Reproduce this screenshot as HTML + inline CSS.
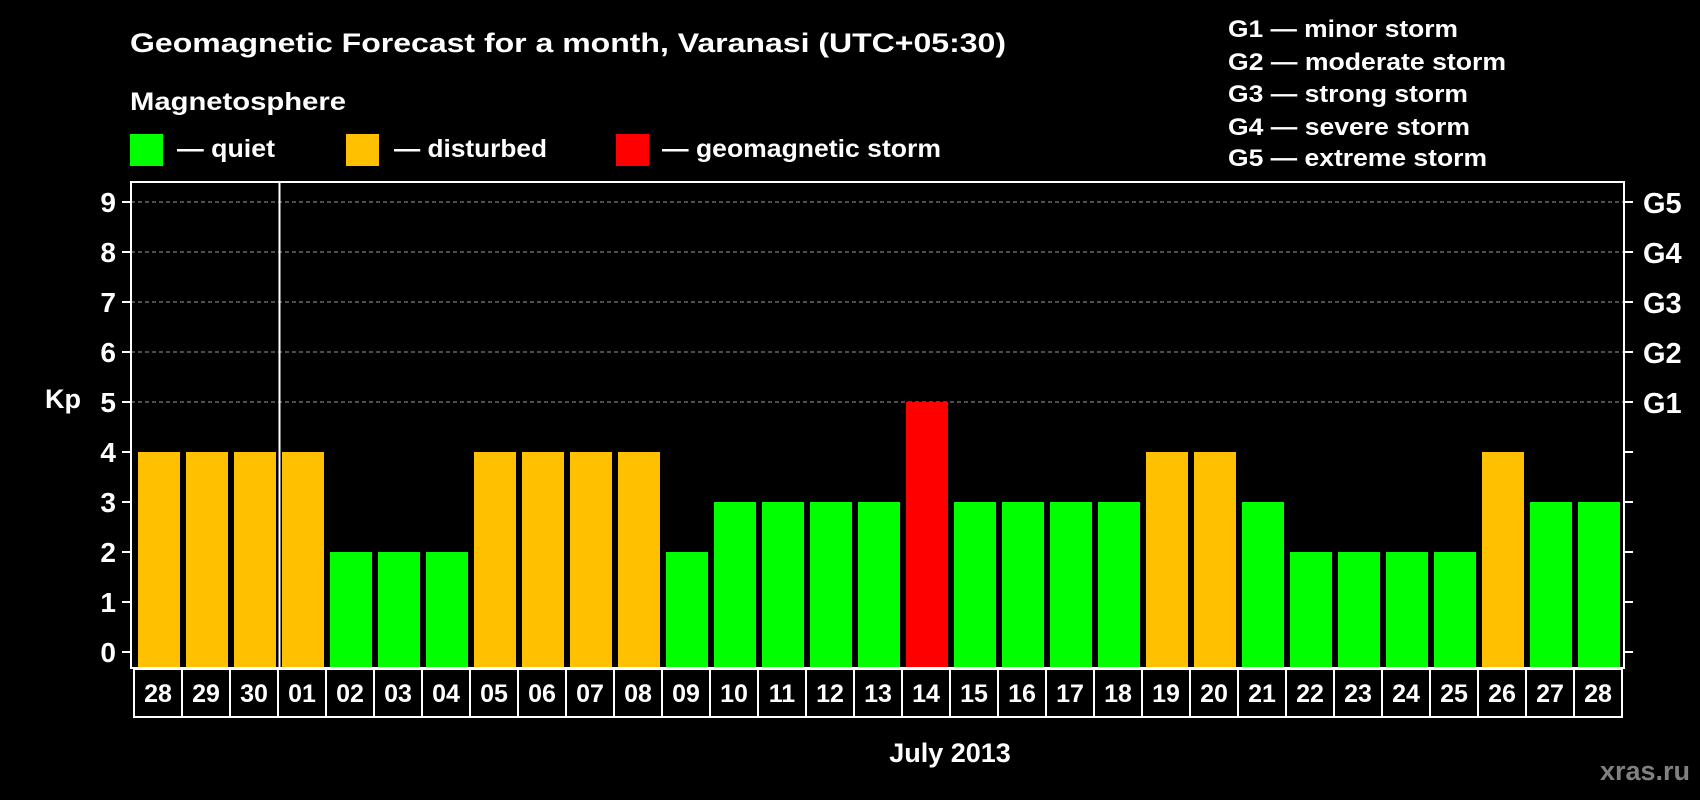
<!DOCTYPE html>
<html><head><meta charset="utf-8"><style>
html,body{margin:0;padding:0;background:#000;}
svg{display:block;font-family:"Liberation Sans",Arial,sans-serif;font-weight:bold;}
</style></head><body>
<svg id="chart" width="1700" height="800" viewBox="0 0 1700 800">
<rect width="1700" height="800" fill="#000"/>
<text x="130" y="52" font-size="27" fill="#fff" textLength="876" lengthAdjust="spacingAndGlyphs">Geomagnetic Forecast for a month, Varanasi (UTC+05:30)</text>
<text x="130" y="110" font-size="25" fill="#fff" textLength="216" lengthAdjust="spacingAndGlyphs">Magnetosphere</text>
<g>
<rect x="130" y="134" width="33" height="32" fill="#00ff00"/>
<text x="177" y="157" font-size="25" fill="#fff" textLength="98" lengthAdjust="spacingAndGlyphs">— quiet</text></g>
<g>
<rect x="346" y="134" width="33" height="32" fill="#ffc000"/>
<text x="394" y="157" font-size="25" fill="#fff" textLength="153" lengthAdjust="spacingAndGlyphs">— disturbed</text></g>
<g>
<rect x="616" y="134" width="33" height="32" fill="#ff0000"/>
<text x="662" y="157" font-size="25" fill="#fff" textLength="279" lengthAdjust="spacingAndGlyphs">— geomagnetic storm</text></g>
<g font-size="24" fill="#fff">
<text x="1228" y="37" textLength="230" lengthAdjust="spacingAndGlyphs">G1 — minor storm</text>
<text x="1228" y="70" textLength="278" lengthAdjust="spacingAndGlyphs">G2 — moderate storm</text>
<text x="1228" y="102" textLength="240" lengthAdjust="spacingAndGlyphs">G3 — strong storm</text>
<text x="1228" y="135" textLength="242" lengthAdjust="spacingAndGlyphs">G4 — severe storm</text>
<text x="1228" y="166" textLength="259" lengthAdjust="spacingAndGlyphs">G5 — extreme storm</text>
</g>
<text x="63" y="408" font-size="27" fill="#fff" text-anchor="middle">Kp</text>
<text x="950" y="762" font-size="27" fill="#fff" text-anchor="middle">July 2013</text>
<text x="1690" y="780" font-size="27" fill="#808080" text-anchor="end">xras.ru</text>
<g id="plot"></g>
</svg>
<script>
const days = ["28","29","30","01","02","03","04","05","06","07","08","09","10","11","12","13","14","15","16","17","18","19","20","21","22","23","24","25","26","27","28"];
const kpValues = [4,4,4,4,2,2,2,4,4,4,4,2,3,3,3,3,5,3,3,3,3,4,4,3,2,2,2,2,4,3,3];
const yTicks = [0,1,2,3,4,5,6,7,8,9];
const gLabels = ["G1","G2","G3","G4","G5"];
const gLevels = [5,6,7,8,9];

const NS="http://www.w3.org/2000/svg";
const plot=document.getElementById('plot');
const L=131,R=1624,T=182,B=668;
const y=v=>652-v*50;
const x0=138,step=48,bw=42;
const xb=i=>x0+i*step;
function mk(t,a){const e=document.createElementNS(NS,t);for(const k in a)e.setAttribute(k,a[k]);plot.appendChild(e);return e;}
function color(v){return v>=5?"#ff0000":(v>=4?"#ffc000":"#00ff00");}

gLevels.forEach((v,i)=>{
  const g=mk('line',{x1:L,x2:R,y1:y(v),y2:y(v),stroke:"#9a9a9a","stroke-width":1,"stroke-dasharray":"4,3"});
  
  
  const t=mk('text',{x:1643,y:y(v)+11,"font-size":29,fill:"#fff"});
  t.textContent=gLabels[i];
  
  
});
kpValues.forEach((v,i)=>{
  const r=mk('rect',{x:xb(i),y:y(v),width:bw,height:B-y(v),fill:color(v)});
  
  
});
yTicks.forEach(v=>{
  const tk=mk('line',{x1:L-9,x2:L,y1:y(v),y2:y(v),stroke:"#fff","stroke-width":2});
  
  
  const tr=mk('line',{x1:R,x2:R+9,y1:y(v),y2:y(v),stroke:"#fff","stroke-width":2});
  
  
  const t=mk('text',{x:116,y:y(v)+10,"font-size":28,fill:"#fff","text-anchor":"end"});
  t.textContent=v;
  
  
});
const fr=mk('rect',{x:L,y:T,width:R-L,height:B-T,fill:"none",stroke:"#fff","stroke-width":2});


const sep=mk('line',{x1:279.5,x2:279.5,y1:T,y2:B,stroke:"#fff","stroke-width":2});


days.forEach((d,i)=>{
  const c=mk('rect',{x:134+i*step,y:669,width:step,height:48,fill:"#000",stroke:"#fff","stroke-width":2});
  
  
  const t=mk('text',{x:134+i*step+step/2,y:702,"font-size":25,fill:"#fff","text-anchor":"middle"});
  t.textContent=d;
  
  
});
</script>
</body></html>
